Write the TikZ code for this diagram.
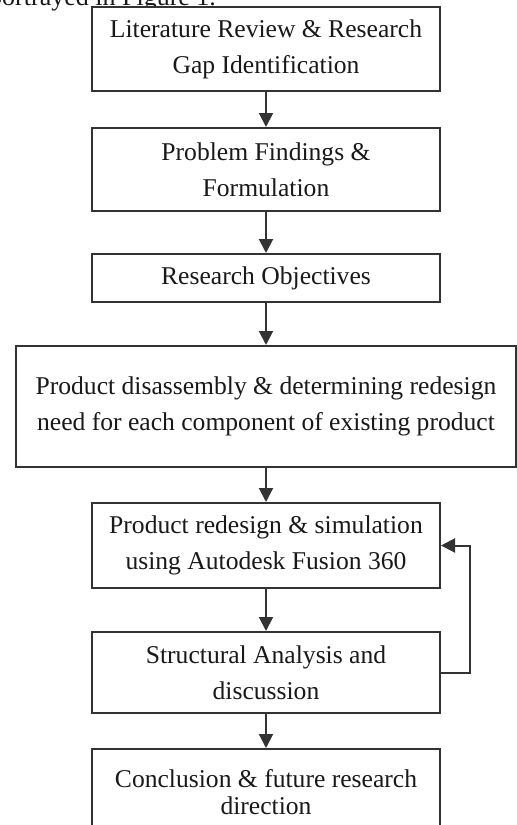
\documentclass[tikz,border=0pt]{standalone}
\usepackage{fontspec}
\setmainfont{Liberation Serif}
\usetikzlibrary{positioning, arrows.meta}
\tikzset{stepbox/.style={draw=black!80, line width=1pt, fill=white, align=center, text=black!90, font=\fontsize{12.8}{18}\selectfont, inner sep=0pt, minimum width=174pt}}
\tikzset{arr/.style={draw=black!80, line width=1pt, -{Triangle[width=7pt,length=7pt]}}}

\begin{document}
\begin{tikzpicture}
            \useasboundingbox (0,0) rectangle (258pt,-412.5pt);
            \node[anchor=base east, text=black!90, font=\fontsize{13}{16}\selectfont] (lead) at (111.5pt,-2.8pt) {portrayed in Figure 1.};

            \node[stepbox, minimum height=42pt] (review) at (133pt,-24.5pt) {Literature Review \& Research\\Gap Identification};
            \node[stepbox, minimum height=41.5pt, below=17.5pt of review] (problem) {Problem Findings \&\\Formulation};
            \node[stepbox, minimum height=24pt, below=20.5pt of problem] (objectives) {Research Objectives};
            \node[stepbox, minimum width=250pt, minimum height=60.5pt, below=21pt of objectives] (disassembly) {Product disassembly \& determining redesign\\need for each component of existing product};
            \node[stepbox, minimum height=42.5pt, below=17pt of disassembly] (redesign) {Product redesign \& simulation\\using Autodesk Fusion 360};
            \node[stepbox, minimum height=40.5pt, below=21pt of redesign] (analysis) {Structural Analysis and\\discussion};
            \node[stepbox, minimum height=43.5pt, below=17pt of analysis, font=\fontsize{12.8}{13.5}\selectfont] (conclusion) {Conclusion \& future research\\direction};

            \draw[arr] (review) -- (problem);
            \draw[arr] (problem) -- (objectives);
            \draw[arr] (objectives) -- (disassembly);
            \draw[arr] (disassembly) -- (redesign);
            \draw[arr] (redesign) -- (analysis);
            \draw[arr] (analysis) -- (conclusion);
            \draw[arr] (analysis.east) -- ++(14.5pt,0) |- (redesign.east);
\end{tikzpicture}
\end{document}
